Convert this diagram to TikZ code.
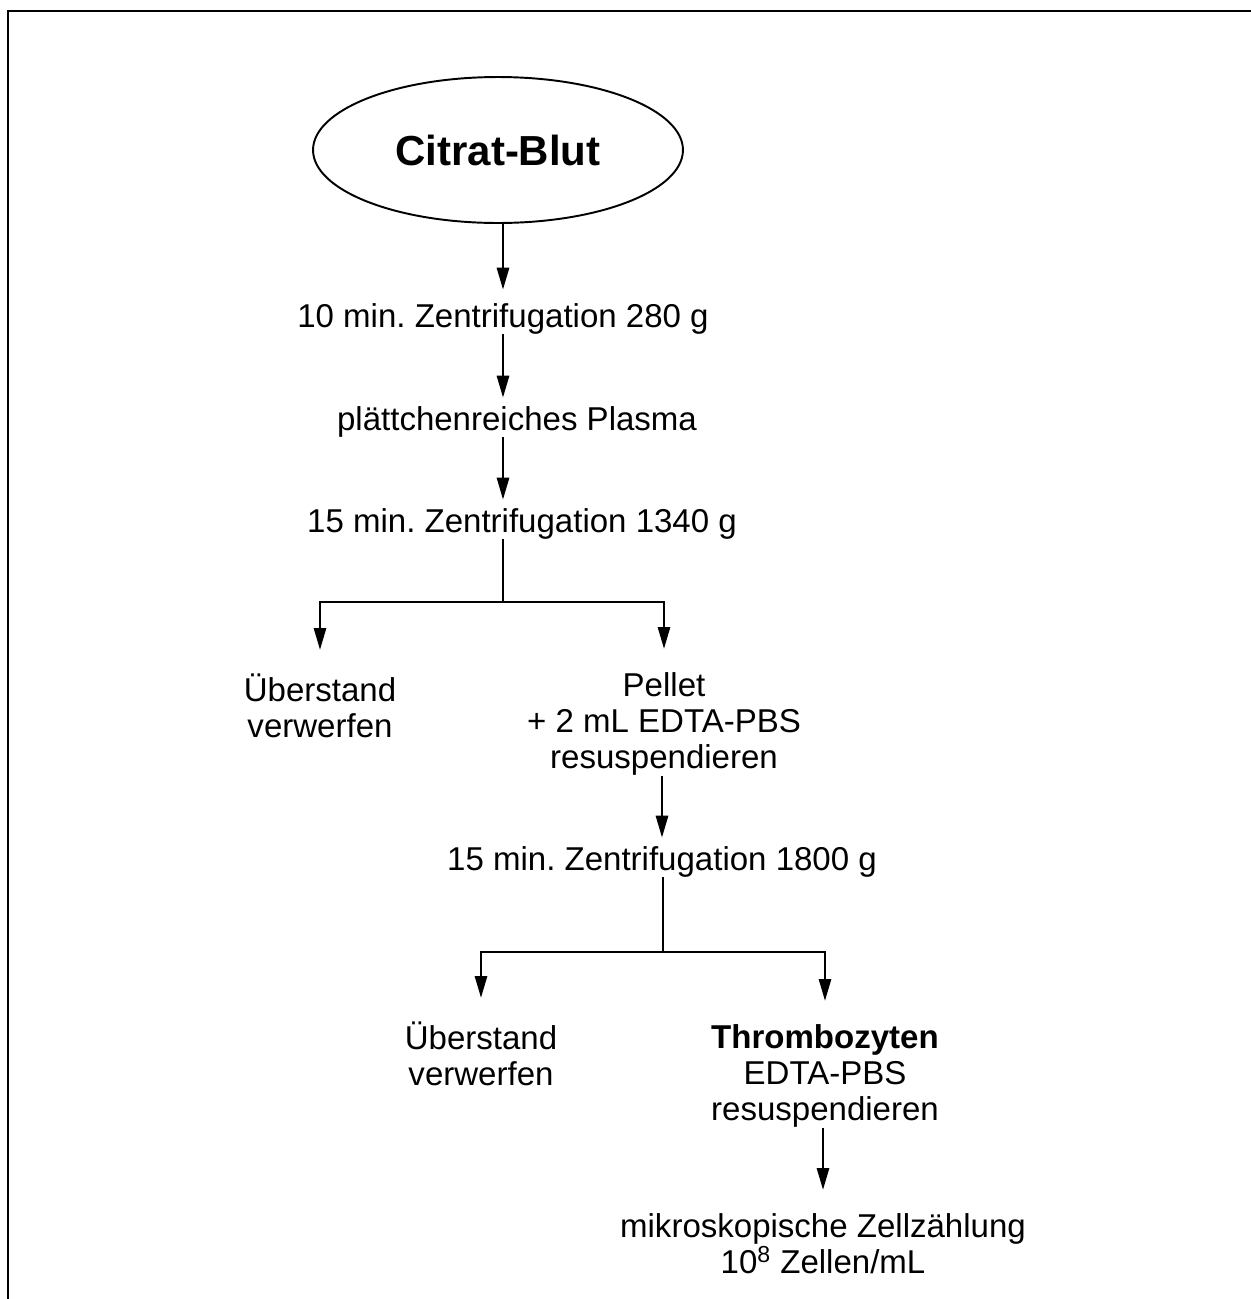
\documentclass[tikz,border=0pt]{standalone}
\usepackage{fontspec}
\setmainfont{Liberation Sans}
\frenchspacing
\usetikzlibrary{arrows.meta,shapes.geometric}
\begin{document}
\begin{tikzpicture}[x=0.02cm,y=-0.02cm,
		txt/.style={inner sep=0pt, align=center, anchor=base, font=\fontsize{18.8pt}{20.6pt}\selectfont},
		block/.style={txt, anchor=north},
		ln/.style={line width=1.6pt},
		arr/.style={ln, shorten >=0.16cm, -{Triangle[length=0.44cm,width=0.24cm]}},
		longarr/.style={arr, shorten >=0.46cm}]
		\useasboundingbox (0,0) rectangle (1251,1299);

		\draw[line width=1.7pt] (8,1299) -- (8,11) -- (1251,11);

		\node[draw, ellipse, line width=1.1pt, minimum width=7.4cm, minimum height=2.92cm, inner sep=0pt, font=\fontsize{23.9pt}{26pt}\selectfont\bfseries] (blut) at (498,150) {Citrat-Blut};

		\node[txt] (zen1) at (503,327) {10 min. Zentrifugation 280 g};
		\node[txt] (plasma) at (517,430) {plättchenreiches Plasma};
		\node[txt] (zen2) at (522,532) {15 min. Zentrifugation 1340 g};
		\node[block] (ueber1) at (320,673) {Überstand\\verwerfen};
		\node[block] (pellet) at (664,672) {Pellet\\+ 2 mL EDTA-PBS\\resuspendieren};
		\node[txt] (zen3) at (662,870) {15 min. Zentrifugation 1800 g};
		\node[block] (ueber2) at (481,1021) {Überstand\\verwerfen};
		\node[block] (thrombo) at (825,1024) {\textbf{Thrombozyten}\\EDTA-PBS\\resuspendieren};
		\node[block] (zell) at (823,1213) {mikroskopische Zellzählung\\10\textsuperscript{8} Zellen/mL};

		\coordinate (fork1) at (503,602);
		\coordinate (fork2) at (663,952);

		\draw[arr, shorten >=0.26cm] (zen1.north |- blut.south) -- (zen1.north);
		\draw[arr] (zen1.south) -- (zen1.south |- plasma.north);
		\draw[arr] (zen1.south |- plasma.south) -- (zen1.south |- zen2.north);
		\draw[ln] (fork1 |- zen2.south) -- (fork1);
		\draw[longarr] (fork1) -| (ueber1.north);
		\draw[longarr] (fork1) -| (pellet.north);
		\draw[arr] (zen3.north |- pellet.south) -- (zen3.north);
		\draw[ln] (fork2 |- zen3.south) -- (fork2);
		\draw[longarr] (fork2) -| (ueber2.north);
		\draw[longarr] (fork2) -| (thrombo.north);
		\draw[longarr] (zell.north |- thrombo.south) -- (zell.north);
	\end{tikzpicture}
\end{document}
